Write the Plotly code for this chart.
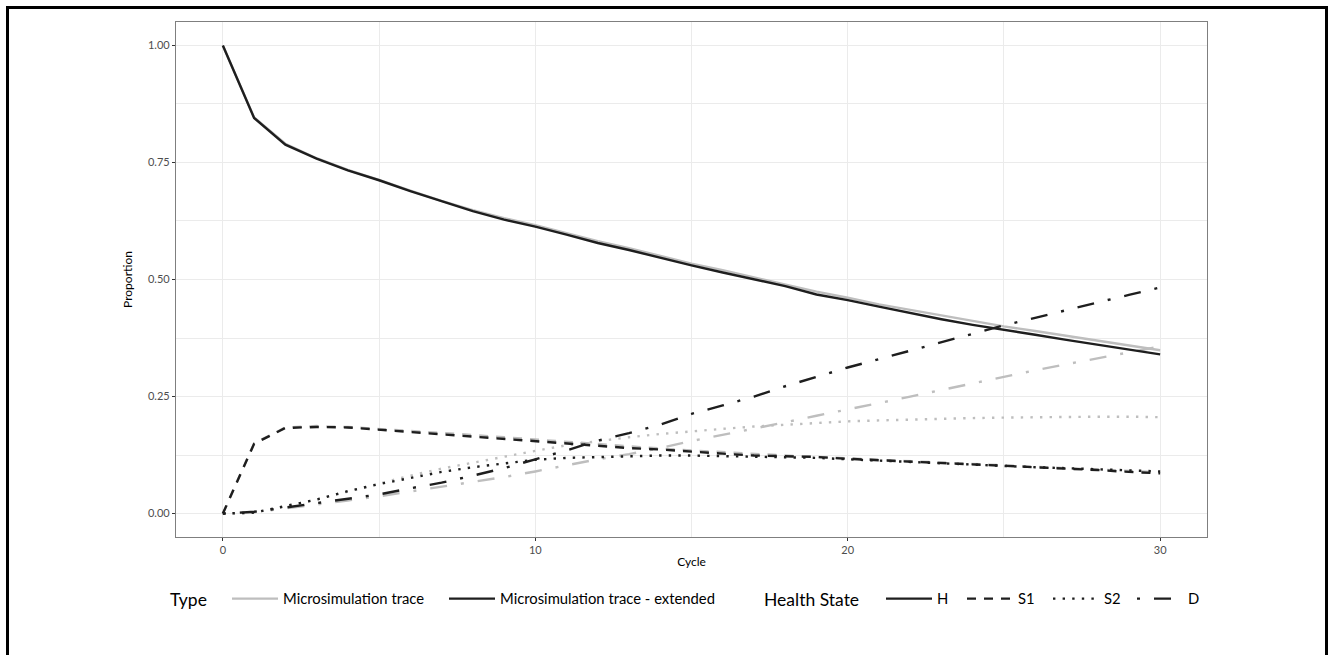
import plotly.graph_objects as go

cycles = list(range(31))

# Microsimulation trace (grey)
h_base = [1.000, 0.846, 0.790, 0.759, 0.734, 0.713, 0.690, 0.668, 0.648, 0.631, 0.616, 0.599, 0.582, 0.567, 0.550, 0.534, 0.520, 0.505, 0.490, 0.474, 0.461, 0.447, 0.435, 0.423, 0.411, 0.400, 0.390, 0.380, 0.369, 0.359, 0.349]
s1_base = [0.000, 0.150, 0.184, 0.187, 0.185, 0.181, 0.177, 0.172, 0.168, 0.163, 0.158, 0.153, 0.148, 0.143, 0.139, 0.135, 0.131, 0.127, 0.124, 0.121, 0.118, 0.115, 0.112, 0.109, 0.106, 0.103, 0.100, 0.097, 0.094, 0.091, 0.088]
s2_base = [0.000, 0.002, 0.015, 0.030, 0.047, 0.064, 0.081, 0.096, 0.109, 0.122, 0.134, 0.146, 0.155, 0.163, 0.170, 0.176, 0.181, 0.186, 0.190, 0.194, 0.197, 0.199, 0.201, 0.203, 0.204, 0.205, 0.206, 0.206, 0.207, 0.207, 0.206]
d_base = [0.000, 0.003, 0.011, 0.019, 0.028, 0.037, 0.047, 0.057, 0.068, 0.078, 0.090, 0.103, 0.116, 0.127, 0.140, 0.155, 0.168, 0.181, 0.195, 0.209, 0.222, 0.236, 0.250, 0.264, 0.278, 0.293, 0.306, 0.319, 0.332, 0.345, 0.357]

# Microsimulation trace - extended (black)
h_ext = [1.000, 0.845, 0.788, 0.758, 0.733, 0.712, 0.689, 0.667, 0.646, 0.628, 0.613, 0.596, 0.578, 0.563, 0.546, 0.530, 0.515, 0.501, 0.486, 0.468, 0.456, 0.442, 0.428, 0.415, 0.403, 0.393, 0.382, 0.371, 0.361, 0.350, 0.340]
s1_ext = [0.000, 0.149, 0.183, 0.185, 0.184, 0.179, 0.175, 0.169, 0.165, 0.160, 0.155, 0.150, 0.145, 0.140, 0.137, 0.132, 0.128, 0.124, 0.122, 0.121, 0.117, 0.114, 0.111, 0.108, 0.106, 0.103, 0.100, 0.097, 0.093, 0.089, 0.086]
s2_ext = [0.000, 0.002, 0.016, 0.030, 0.048, 0.063, 0.076, 0.089, 0.099, 0.107, 0.115, 0.119, 0.121, 0.123, 0.124, 0.124, 0.123, 0.122, 0.121, 0.119, 0.116, 0.113, 0.110, 0.107, 0.104, 0.101, 0.099, 0.097, 0.095, 0.092, 0.090]
d_ext = [0.000, 0.004, 0.013, 0.022, 0.031, 0.041, 0.054, 0.066, 0.081, 0.097, 0.116, 0.135, 0.156, 0.172, 0.190, 0.213, 0.231, 0.250, 0.272, 0.292, 0.312, 0.330, 0.348, 0.366, 0.384, 0.402, 0.418, 0.435, 0.451, 0.467, 0.483]

type_names = ["Microsimulation trace", "Microsimulation trace - extended"]
state_names = ["H", "S1", "S2", "D"]
x_ticks = [0, 10, 20, 30]
y_ticks = [0.00, 0.25, 0.50, 0.75, 1.00]

GREY = "#BEBEBE"
BLACK = "#1E1E1E"
dashes = {"H": "solid", "S1": "9px,8px", "S2": "2.4px,7.2px", "D": "3px,14px,17px,14px"}
LW = 2.4
FONT = "Lato"

series = {
    type_names[0]: dict(zip(state_names, [h_base, s1_base, s2_base, d_base])),
    type_names[1]: dict(zip(state_names, [h_ext, s1_ext, s2_ext, d_ext])),
}
colors = {type_names[0]: GREY, type_names[1]: BLACK}

W, H = 1329, 655
# plot area in window pixels: x 176..1207, y 22..537
L, T = 176, 22
R = W - 1207
B = H - 537
pw, ph = W - L - R, H - T - B

def px_x(p):
    return (p - L) / pw

def px_y(p):
    return (H - B - p) / ph

fig = go.Figure()
for t in type_names:
    for s in state_names:
        fig.add_trace(go.Scatter(
            x=cycles, y=series[t][s], mode="lines",
            line=dict(color=colors[t], width=LW, dash=dashes[s]),
            showlegend=False, hoverinfo="x+y", name=f"{t} {s}"))

# legend entries: one small legend per entry so each can be placed like the reference
LEG_Y = 599
entries = [
    (type_names[0], GREY, "solid", 231),
    (type_names[1], BLACK, "solid", 448),
    ("H", BLACK, dashes["H"], 885),
    ("S1", BLACK, dashes["S1"], 966),
    ("S2", BLACK, dashes["S2"], 1052),
    ("D", BLACK, dashes["D"], 1136),
]
legend_layouts = {}
for i, (name, col, dsh, xpx) in enumerate(entries):
    lid = "legend" if i == 0 else f"legend{i + 1}"
    fig.add_trace(go.Scatter(x=[None], y=[None], mode="lines",
                             line=dict(color=col, width=LW, dash=dsh),
                             name=name, legend=lid, showlegend=True))
    legend_layouts[lid] = dict(orientation="h", x=px_x(xpx - 4), y=px_y(LEG_Y),
                               xanchor="left", yanchor="middle",
                               font=dict(family=FONT, size=14.8, color="#000"),
                               bgcolor="rgba(0,0,0,0)", itemwidth=46)

axis_common = dict(
    showgrid=True, gridcolor="#EBEBEB", gridwidth=1.1,
    zeroline=False, showline=True, mirror=True, linecolor="#7F7F7F", linewidth=1.2,
    ticks="outside", ticklen=3, tickcolor="#333333", tickwidth=1,
    tickfont=dict(family=FONT, size=11, color="#4D4D4D"),
)

fig.update_layout(
    width=W, height=H,
    margin=dict(l=L, r=R, t=T, b=B, pad=0),
    paper_bgcolor="white", plot_bgcolor="white",
    font=dict(family=FONT, color="#000000"),
    xaxis=dict(range=[-1.5, 31.5], tickvals=x_ticks, ticktext=[str(v) for v in x_ticks],
               minor=dict(showgrid=True, gridcolor="#EBEBEB", gridwidth=0.6, dtick=5, tick0=0, ticks=""),
               title=dict(text="Cycle", font=dict(family=FONT, size=12, color="#000"), standoff=2),
               **axis_common),
    yaxis=dict(range=[-0.05, 1.05], tickvals=y_ticks, ticktext=[f"{v:.2f}" for v in y_ticks],
               minor=dict(showgrid=True, gridcolor="#EBEBEB", gridwidth=0.6, dtick=0.125, tick0=0, ticks=""),
               title=dict(text="Proportion", font=dict(family=FONT, size=12, color="#000"), standoff=12),
               **axis_common),
    annotations=[
        dict(text="Type", xref="paper", yref="paper", x=px_x(168), y=px_y(LEG_Y),
             xanchor="left", yanchor="middle", showarrow=False,
             font=dict(family=FONT, size=17.5, color="#000")),
        dict(text="Health State", xref="paper", yref="paper", x=px_x(762), y=px_y(LEG_Y),
             xanchor="left", yanchor="middle", showarrow=False,
             font=dict(family=FONT, size=17.5, color="#000")),
    ],
    shapes=[dict(type="rect", xref="paper", yref="paper",
                 x0=px_x(7.5), x1=px_x(1326.5), y0=px_y(700), y1=px_y(7.5),
                 line=dict(color="black", width=3), fillcolor="rgba(0,0,0,0)", layer="below")],
    **legend_layouts,
)

fig.write_html("out.html", config={"displayModeBar": False},
               post_script="document.body.style.margin='0';document.body.style.overflow='hidden';")
